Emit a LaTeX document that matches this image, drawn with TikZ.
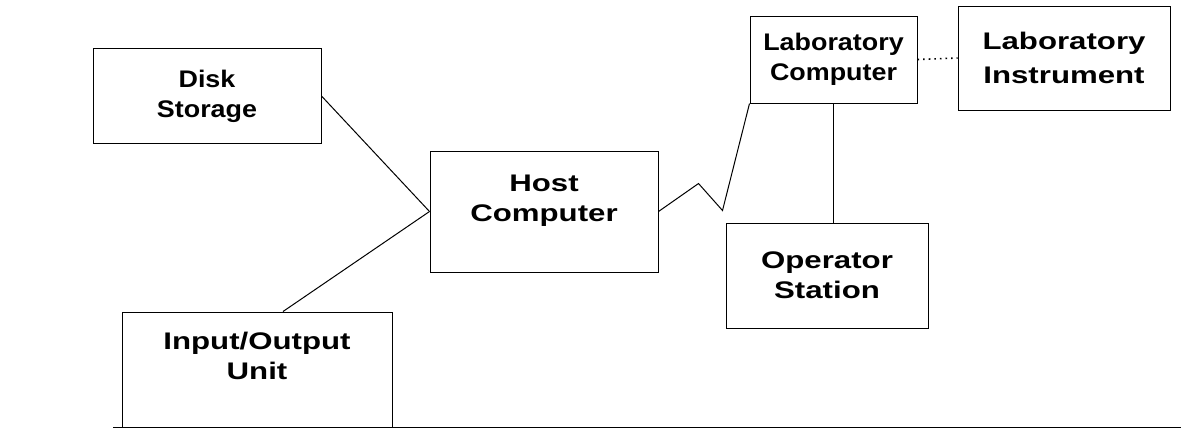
\documentclass[tikz,border=0pt]{standalone}
\usepackage{fontspec}
\setmainfont{Liberation Sans}
\newfontfamily\narrowfont{Liberation Sans}[FakeStretch=1.12]
\newfontfamily\widefont{Liberation Sans}[FakeStretch=1.3]
\begin{document}
\begin{tikzpicture}[x=0.5pt,y=-0.5pt]
    \tikzstyle{block} = [draw, shape=rectangle, line width=0.5pt, align=center, inner sep=0pt]
    \tikzstyle{narrow} = [font=\narrowfont\bfseries\fontsize{12}{15}\selectfont]
    \tikzstyle{wide} = [font=\widefont\bfseries\fontsize{12}{15}\selectfont]
    \tikzstyle{lowtext} = [text depth=13.5pt]

    \useasboundingbox (0,0) rectangle (1181,430);

    \node [block, narrow, minimum width=114pt, minimum height=47.5pt] at (207,96) (disk) {Disk\\Storage};
    \node [block, wide, lowtext, minimum width=114pt, minimum height=60.5pt] at (544,211.5) (host) {Host\\Computer};
    \node [block, wide, lowtext, minimum width=135pt, minimum height=57.5pt] at (257,369.5) (io) {Input/Output\\Unit};
    \node [block, narrow, minimum width=83.5pt, minimum height=43.5pt] at (833.5,59.5) (labc) {Laboratory\\Computer};
    \node [block, wide, minimum width=106pt, minimum height=52pt] at (1064,58) (labi) {Laboratory\\[2pt]Instrument};
    \node [block, wide, minimum width=101pt, minimum height=52.5pt] at (827,275.5) (op) {Operator\\Station};

    \begin{scope}[line width=0.5pt]
    \draw (disk.east) -- (host.west);
    \draw ([xshift=13pt]io.north) -- (host.west);
    \draw (host.east) -- ++(40,-28) -- ++(24,27) -- (labc.south west);
    \draw [line width=0.8pt, dotted] (labc.east) -- (labi.west);
    \draw (labc.south) -- (labc.south |- op.north);
    \draw (113,427) -- (1181,427);
    \end{scope}
\end{tikzpicture}
\end{document}
